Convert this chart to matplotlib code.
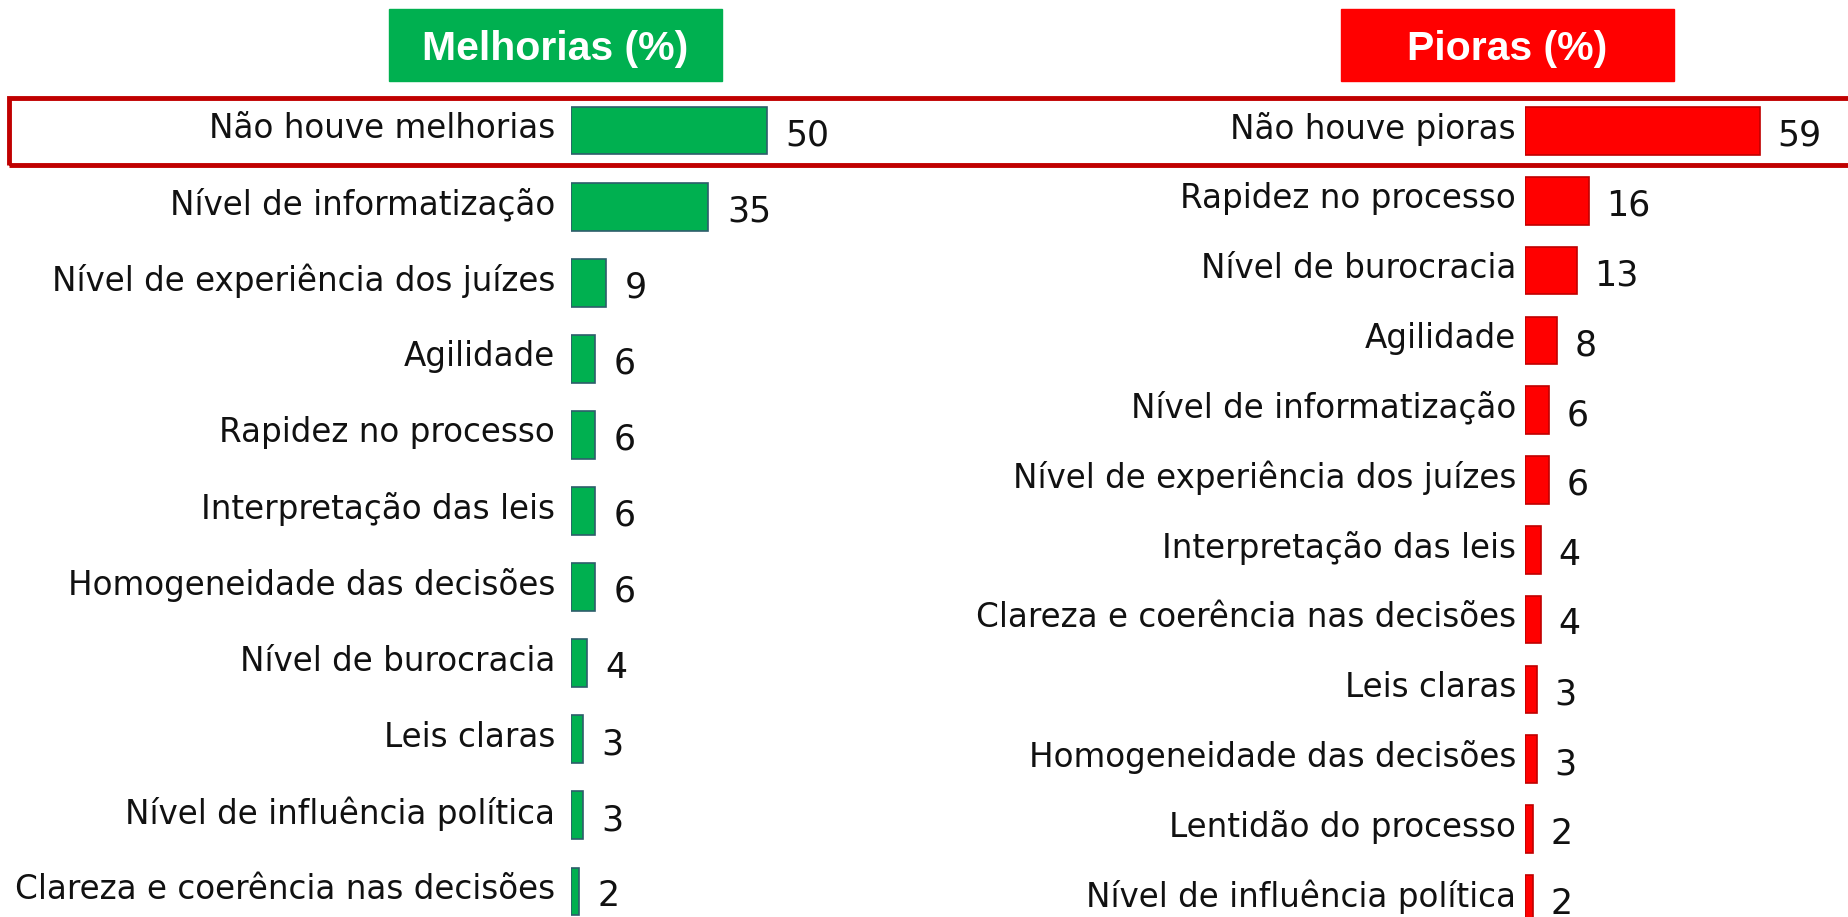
import matplotlib.pyplot as plt
from matplotlib.patches import Rectangle

# Melhorias (%)
mel_labels = ["Não houve melhorias", "Nível de informatização", "Nível de experiência dos juízes",
              "Agilidade", "Rapidez no processo", "Interpretação das leis",
              "Homogeneidade das decisões", "Nível de burocracia", "Leis claras",
              "Nível de influência política", "Clareza e coerência nas decisões"]
mel_values = [50, 35, 9, 6, 6, 6, 6, 4, 3, 3, 2]

# Pioras (%)
pio_labels = ["Não houve pioras", "Rapidez no processo", "Nível de burocracia", "Agilidade",
              "Nível de informatização", "Nível de experiência dos juízes",
              "Interpretação das leis", "Clareza e coerência nas decisões", "Leis claras",
              "Homogeneidade das decisões", "Lentidão do processo", "Nível de influência política"]
pio_values = [59, 16, 13, 8, 6, 6, 4, 4, 3, 3, 2, 2]

W, H = 1849, 917
fig = plt.figure(figsize=(W / 100, H / 100), dpi=100)

GREEN = "#00B050"
RED = "#FF0000"


def panel(x0, px_per_unit, y_first, spacing, labels, values, color, edge, bar_h, lab_pad, val_pad):
    n = len(values)
    xmax = 70
    top = y_first - spacing / 2
    height = n * spacing
    ax = fig.add_axes([x0 / W, 1 - (top + height) / H, px_per_unit * xmax / W, height / H])
    ax.barh(range(n), values, height=bar_h, color=color, edgecolor=edge, linewidth=1.2)
    ax.set_xlim(0, xmax)
    ax.set_ylim(n - 0.5, -0.5)
    ax.set_xticks([])
    ax.set_yticks([])
    for s in ax.spines.values():
        s.set_visible(False)
    ax.patch.set_alpha(0)
    for i, (lab, v) in enumerate(zip(labels, values)):
        ax.annotate(lab, (0, i), xytext=(-lab_pad, 1.5), textcoords="offset points",
                    va="center", ha="right", fontsize=23.5, color="#111111",
                    annotation_clip=False)
        ax.annotate(str(v), (v, i), xytext=(val_pad, -3.5), textcoords="offset points",
                    va="center", ha="left", fontsize=25, color="#111111",
                    annotation_clip=False)
    return ax


panel(571, 3.92, 130.5, 76.1, mel_labels, mel_values, GREEN, "#2E5D6B", 0.63, 11.5, 13.5)
panel(1525, 3.98, 131, 69.8, pio_labels, pio_values, RED, "#C00000", 0.68, 6.5, 12.5)

# title boxes
for x0, x1, txt, col in [(389, 722, "Melhorias (%)", GREEN), (1341, 1674, "Pioras (%)", RED)]:
    fig.patches.append(Rectangle((x0 / W, 1 - 81 / H), (x1 - x0) / W, 72 / H,
                                 transform=fig.transFigure, color=col, zorder=0))
    fig.text((x0 + x1) / 2 / W, 1 - 49 / H, txt, ha="center", va="center", color="white",
             fontsize=29.5, fontweight="bold", family="Liberation Sans")

# highlight box around first row
fig.patches.append(Rectangle((9 / W, 1 - 165 / H), (W + 20) / W, 67 / H,
                             transform=fig.transFigure, fill=False, edgecolor="#C00000",
                             linewidth=3.5, zorder=5))

fig.savefig("out.png", dpi=100)
